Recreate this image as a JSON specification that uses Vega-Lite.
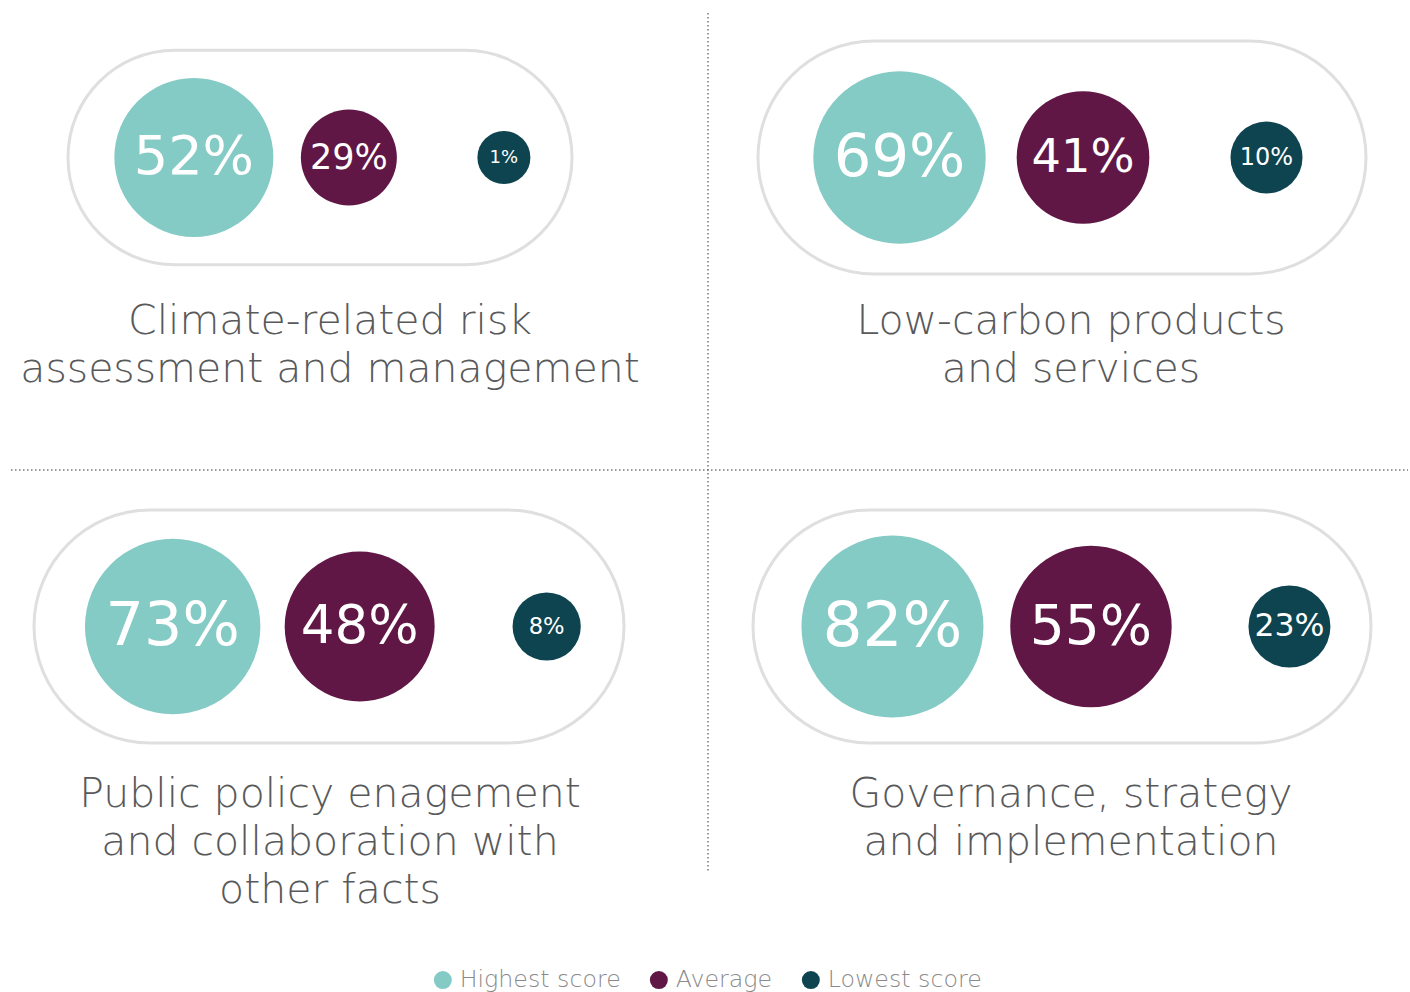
{
  "$schema": "https://vega.github.io/schema/vega-lite/v6.json",
  "background": "white",
  "padding": {"left": 10, "top": 12, "right": 3, "bottom": 2},
  "datasets": {
    "scores": [
      {"panel": "Climate", "measure": "Highest score", "value": 0.52},
      {"panel": "Climate", "measure": "Average", "value": 0.29},
      {"panel": "Climate", "measure": "Lowest score", "value": 0.01},
      {"panel": "LowCarbon", "measure": "Highest score", "value": 0.69},
      {"panel": "LowCarbon", "measure": "Average", "value": 0.41},
      {"panel": "LowCarbon", "measure": "Lowest score", "value": 0.10},
      {"panel": "Policy", "measure": "Highest score", "value": 0.73},
      {"panel": "Policy", "measure": "Average", "value": 0.48},
      {"panel": "Policy", "measure": "Lowest score", "value": 0.08},
      {"panel": "Governance", "measure": "Highest score", "value": 0.82},
      {"panel": "Governance", "measure": "Average", "value": 0.55},
      {"panel": "Governance", "measure": "Lowest score", "value": 0.23}
    ]
  },
  "data": {"name": "scores"},
  "bounds": "flush",
  "center": true,
  "columns": 2,
  "spacing": {"row": 236, "column": 129},
  "resolve": {"scale": {"x": "independent", "y": "independent", "size": "independent", "color": "shared"}},
  "concat": [
    {
      "width": 590, "height": 233,
      "transform": [{"filter": "datum.panel === 'Climate'"}],
      "title": {"text": ["Climate-related risk", "assessment and management"], "orient": "bottom", "anchor": "middle", "frame": "group", "offset": 28, "dx": 1},
      "resolve": {"scale": {"x": "independent", "y": "independent", "size": "independent"}},
      "layer": [
        {
          "transform": [{"filter": "datum.measure === 'Highest score'"}],
          "mark": {"type": "rect", "fill": "white", "stroke": "#dfdfdf", "strokeWidth": 3, "cornerRadius": 107},
          "encoding": {
            "x": {"datum": 0.05763, "type": "quantitative", "scale": {"domain": [0, 1], "nice": false, "zero": false}, "axis": null},
            "x2": {"datum": 0.91186},
            "y": {"datum": 0.04, "type": "quantitative", "scale": {"domain": [0, 1], "nice": false, "zero": false}, "axis": null},
            "y2": {"datum": 0.96}
          }
        },
        {
          "encoding": {
            "x": {"field": "measure", "type": "nominal", "sort": ["Highest score", "Average", "Lowest score"], "scale": {"type": "point", "padding": 0.903, "align": 0.571}, "axis": null}
          },
          "resolve": {"scale": {"size": "independent"}},
          "layer": [
            {
              "mark": {"type": "point", "shape": "circle", "filled": true, "opacity": 1, "strokeWidth": 0},
              "encoding": {
                "color": {"field": "measure", "type": "nominal",
                  "scale": {"domain": ["Highest score", "Average", "Lowest score"], "range": ["#84cac5", "#611745", "#0e4450"]},
                  "legend": {"orient": "none", "legendX": 397, "legendY": 927, "direction": "horizontal", "title": null, "symbolType": "circle", "symbolSize": 324, "symbolStrokeWidth": 0, "labelFontSize": 23.7, "labelColor": "#8a8a8a", "labelFont": "DejaVu Sans", "labelFontWeight": 300, "labelLimit": 400, "columnPadding": 26, "labelOffset": 5, "padding": 0}},
                "size": {"field": "value", "type": "quantitative", "scale": {"type": "linear", "domain": [0.01, 0.10, 0.23, 0.29, 0.52, 0.82], "range": [2809, 5184, 6724, 9216, 25281, 33124], "zero": false, "nice": false}, "legend": null}
              }
            },
            {
              "mark": {"type": "text", "color": "white", "font": "DejaVu Sans", "baseline": "middle", "align": "center"},
              "encoding": {
                "text": {"field": "value", "type": "quantitative", "format": ".0%"},
                "size": {"field": "value", "type": "quantitative", "scale": {"type": "linear", "domain": [0.01, 0.10, 0.29, 0.48, 0.82], "range": [18, 24, 35, 53, 63], "zero": false, "nice": false}, "legend": null}
              }
            }
          ]
        }
      ]
    },
    {
      "width": 618, "height": 233,
      "transform": [{"filter": "datum.panel === 'LowCarbon'"}],
      "title": {"text": ["Low-carbon products", "and services"], "orient": "bottom", "anchor": "middle", "frame": "group", "offset": 26, "dx": 9},
      "resolve": {"scale": {"x": "independent", "y": "independent", "size": "independent"}},
      "layer": [
        {
          "transform": [{"filter": "datum.measure === 'Highest score'"}],
          "mark": {"type": "rect", "fill": "white", "stroke": "#dfdfdf", "strokeWidth": 3, "cornerRadius": 116.5},
          "encoding": {
            "x": {"datum": 0.00809, "type": "quantitative", "scale": {"domain": [0, 1], "nice": false, "zero": false}, "axis": null},
            "x2": {"datum": 0.99191},
            "y": {"datum": 0, "type": "quantitative", "scale": {"domain": [0, 1], "nice": false, "zero": false}, "axis": null},
            "y2": {"datum": 1}
          }
        },
        {
          "encoding": {
            "x": {"field": "measure", "type": "nominal", "sort": ["Highest score", "Average", "Lowest score"], "scale": {"type": "point", "padding": 0.684, "align": 0.5837}, "axis": null}
          },
          "resolve": {"scale": {"size": "independent"}},
          "layer": [
            {
              "mark": {"type": "point", "shape": "circle", "filled": true, "opacity": 1, "strokeWidth": 0},
              "encoding": {
                "color": {"field": "measure", "type": "nominal",
                  "scale": {"domain": ["Highest score", "Average", "Lowest score"], "range": ["#84cac5", "#611745", "#0e4450"]}},
                "size": {"field": "value", "type": "quantitative", "scale": {"type": "linear", "domain": [0.01, 0.10, 0.23, 0.29, 0.52, 0.82], "range": [2809, 5184, 6724, 9216, 25281, 33124], "zero": false, "nice": false}, "legend": null}
              }
            },
            {
              "mark": {"type": "text", "color": "white", "font": "DejaVu Sans", "baseline": "middle", "align": "center"},
              "encoding": {
                "text": {"field": "value", "type": "quantitative", "format": ".0%"},
                "size": {"field": "value", "type": "quantitative", "scale": {"type": "linear", "domain": [0.01, 0.10, 0.29, 0.48, 0.82], "range": [18, 24, 35, 53, 63], "zero": false, "nice": false}, "legend": null}
              }
            }
          ]
        }
      ]
    },
    {
      "width": 590, "height": 233,
      "transform": [{"filter": "datum.panel === 'Policy'"}],
      "title": {"text": ["Public policy enagement", "and collaboration with", "other facts"], "orient": "bottom", "anchor": "middle", "frame": "group", "offset": 30, "dx": 1},
      "resolve": {"scale": {"x": "independent", "y": "independent", "size": "independent"}},
      "layer": [
        {
          "transform": [{"filter": "datum.measure === 'Highest score'"}],
          "mark": {"type": "rect", "fill": "white", "stroke": "#dfdfdf", "strokeWidth": 3, "cornerRadius": 116.5},
          "encoding": {
            "x": {"datum": 0, "type": "quantitative", "scale": {"domain": [0, 1], "nice": false, "zero": false}, "axis": null},
            "x2": {"datum": 1},
            "y": {"datum": 0, "type": "quantitative", "scale": {"domain": [0, 1], "nice": false, "zero": false}, "axis": null},
            "y2": {"datum": 1}
          }
        },
        {
          "encoding": {
            "x": {"field": "measure", "type": "nominal", "sort": ["Highest score", "Average", "Lowest score"], "scale": {"type": "point", "padding": 0.5775, "align": 0.642}, "axis": null}
          },
          "resolve": {"scale": {"size": "independent"}},
          "layer": [
            {
              "mark": {"type": "point", "shape": "circle", "filled": true, "opacity": 1, "strokeWidth": 0},
              "encoding": {
                "color": {"field": "measure", "type": "nominal",
                  "scale": {"domain": ["Highest score", "Average", "Lowest score"], "range": ["#84cac5", "#611745", "#0e4450"]}},
                "size": {"field": "value", "type": "quantitative", "scale": {"type": "linear", "domain": [0.01, 0.10, 0.23, 0.29, 0.52, 0.82], "range": [2809, 5184, 6724, 9216, 25281, 33124], "zero": false, "nice": false}, "legend": null}
              }
            },
            {
              "mark": {"type": "text", "color": "white", "font": "DejaVu Sans", "baseline": "middle", "align": "center"},
              "encoding": {
                "text": {"field": "value", "type": "quantitative", "format": ".0%"},
                "size": {"field": "value", "type": "quantitative", "scale": {"type": "linear", "domain": [0.01, 0.10, 0.29, 0.48, 0.82], "range": [18, 24, 35, 53, 63], "zero": false, "nice": false}, "legend": null}
              }
            }
          ]
        }
      ]
    },
    {
      "width": 618, "height": 233,
      "transform": [{"filter": "datum.panel === 'Governance'"}],
      "title": {"text": ["Governance, strategy", "and implementation"], "orient": "bottom", "anchor": "middle", "frame": "group", "offset": -96.75, "dx": 9},
      "resolve": {"scale": {"x": "independent", "y": "independent", "size": "independent"}},
      "layer": [
        {
          "transform": [{"filter": "datum.measure === 'Highest score'"}],
          "layer": [
            {
              "mark": {"type": "rect", "fill": "white", "stroke": "#dfdfdf", "strokeWidth": 3, "cornerRadius": 116.5},
              "encoding": {
                "x": {"datum": 0, "type": "quantitative", "scale": {"domain": [0, 1], "nice": false, "zero": false}, "axis": null},
                "x2": {"datum": 1},
                "y": {"datum": 0, "type": "quantitative", "scale": {"domain": [0, 1], "nice": false, "zero": false}, "axis": null},
                "y2": {"datum": 1}
              }
            },
            {
              "mark": {"type": "rule", "color": "#777777", "strokeWidth": 1.5, "strokeDash": [1.5, 2.5]},
              "encoding": {
                "x": {"datum": -0.07282, "type": "quantitative"},
                "y": {"datum": 3.1330, "type": "quantitative"},
                "y2": {"datum": -0.5494}
              }
            },
            {
              "mark": {"type": "rule", "color": "#777777", "strokeWidth": 1.5, "strokeDash": [1.5, 2.5]},
              "encoding": {
                "y": {"datum": 1.1717, "type": "quantitative"},
                "x": {"datum": -1.2006, "type": "quantitative"},
                "x2": {"datum": 1.0599}
              }
            }
          ]
        },
        {
          "encoding": {
            "x": {"field": "measure", "type": "nominal", "sort": ["Highest score", "Average", "Lowest score"], "scale": {"type": "point", "padding": 0.5567, "align": 0.631}, "axis": null}
          },
          "resolve": {"scale": {"size": "independent"}},
          "layer": [
            {
              "mark": {"type": "point", "shape": "circle", "filled": true, "opacity": 1, "strokeWidth": 0},
              "encoding": {
                "color": {"field": "measure", "type": "nominal",
                  "scale": {"domain": ["Highest score", "Average", "Lowest score"], "range": ["#84cac5", "#611745", "#0e4450"]}},
                "size": {"field": "value", "type": "quantitative", "scale": {"type": "linear", "domain": [0.01, 0.10, 0.23, 0.29, 0.52, 0.82], "range": [2809, 5184, 6724, 9216, 25281, 33124], "zero": false, "nice": false}, "legend": null}
              }
            },
            {
              "mark": {"type": "text", "color": "white", "font": "DejaVu Sans", "baseline": "middle", "align": "center"},
              "encoding": {
                "text": {"field": "value", "type": "quantitative", "format": ".0%"},
                "size": {"field": "value", "type": "quantitative", "scale": {"type": "linear", "domain": [0.01, 0.10, 0.29, 0.48, 0.82], "range": [18, 24, 35, 53, 63], "zero": false, "nice": false}, "legend": null}
              }
            }
          ]
        }
      ]
    }
  ],
  "config": {
    "view": {"stroke": null},
    "title": {"font": "DejaVu Sans", "fontSize": 41, "lineHeight": 48, "color": "#58595b", "fontWeight": 300},
    "text": {"font": "DejaVu Sans"}
  }
}
